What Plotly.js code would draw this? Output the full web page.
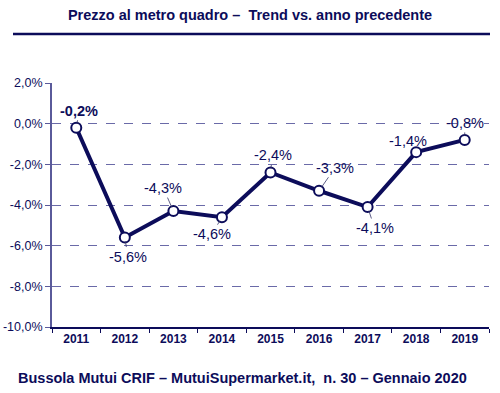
<!DOCTYPE html>
<html>
<head>
<meta charset="utf-8">
<script src="https://cdn.plot.ly/plotly-3.0.1.min.js"></script>
<style>html,body{margin:0;padding:0;background:#fff;}#chart{width:500px;height:393px;}</style>
</head>
<body>
<div id="chart"></div>
<script>
const years = ["2011","2012","2013","2014","2015","2016","2017","2018","2019"];
const values = [-0.2, -5.6, -4.3, -4.6, -2.4, -3.3, -4.1, -1.4, -0.8];
const labels = ["<b>-0,2%</b>","-5,6%","-4,3%","-4,6%","-2,4%","-3,3%","-4,1%","-1,4%","-0,8%"];
const labelDx = [3, 3, -10, -10, 2, 16, 7, -8, 0];
const labelDy = [-17, 19, -23, 17, -17, -23, 21, -11, -17];
const yTickVals = [2, 0, -2, -4, -6, -8, -10];
const yTickText = ["2,0%","0,0%","-2,0%","-4,0%","-6,0%","-8,0%","-10,0%"];

const navy = "#0c0c5a";
const font = "Liberation Sans, Arial, sans-serif";

const trace = {
  x: years, y: values, type: "scatter", mode: "lines+markers",
  line: {color: navy, width: 4},
  marker: {size: 10, color: "#ffffff", line: {color: navy, width: 2}},
  hoverinfo: "skip", cliponaxis: false
};

const annotations = years.map((yr, i) => ({
  x: i, y: values[i], xref: "x", yref: "y",
  text: labels[i], showarrow: true, arrowhead: 0, arrowwidth: 0.8,
  arrowcolor: "#333366", ax: labelDx[i], ay: labelDy[i], standoff: 4,
  font: {family: font, size: 14.5, color: navy}
}));
annotations.push({
  xref: "paper", yref: "paper", x: 0.437, y: -0.209, xanchor: "center", yanchor: "middle",
  text: "<b>Bussola Mutui CRIF – MutuiSupermarket.it,  n. 30 – Gennaio 2020</b>",
  showarrow: false, font: {family: font, size: 14.5, color: navy}
});

const layout = {
  width: 500, height: 393,
  margin: {l: 52, r: 11, t: 83, b: 66},
  paper_bgcolor: "#ffffff", plot_bgcolor: "#ffffff",
  showlegend: false,
  title: {
    text: "<b>Prezzo al metro quadro –  Trend vs. anno precedente</b>",
    x: 0.5, xref: "container", y: 1 - 15/393, yref: "container", yanchor: "middle", xanchor: "center",
    font: {family: font, size: 14.5, color: navy}
  },
  xaxis: {
    type: "category", tickson: "boundaries", ticks: "outside", ticklen: 4, tickcolor: navy,
    showline: true, linecolor: navy, linewidth: 2, showgrid: false, zeroline: false,
    tickfont: {family: font, size: 12, color: navy, weight: "bold"},
    range: [-0.5, 8.5], fixedrange: true
  },
  yaxis: {
    range: [-10, 2], tickvals: yTickVals, ticktext: yTickText,
    ticks: "outside", ticklen: 5, tickcolor: "#5a5a9a",
    showline: true, linecolor: "#5a5a9a", linewidth: 2,
    showgrid: true, gridcolor: "#6a6aa8", griddash: "dash", gridwidth: 1,
    zeroline: false,
    tickfont: {family: font, size: 12.5, color: navy}, fixedrange: true
  },
  shapes: [{
    type: "line", xref: "paper", yref: "paper",
    x0: (13-52)/437, x1: (490-52)/437, y0: (327-34)/244, y1: (327-34)/244,
    line: {color: navy, width: 2.5}
  }],
  annotations: annotations
};

Plotly.newPlot("chart", [trace], layout, {displayModeBar: false, staticPlot: true});
</script>
</body>
</html>
